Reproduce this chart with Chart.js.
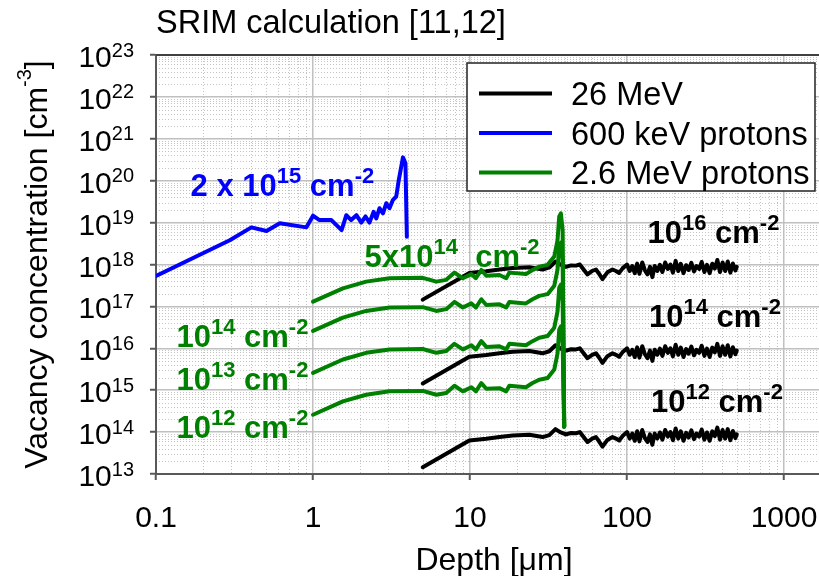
<!DOCTYPE html>
<html>
<head>
<meta charset="utf-8">
<script src="https://cdn.jsdelivr.net/npm/chart.js@4.4.1/dist/chart.umd.min.js"></script>
<style>
  html, body { margin: 0; padding: 0; background: #fff; }
  canvas { display: block; }
</style>
</head>
<body>
<canvas id="srim" width="819" height="576"></canvas>
<script>
// 600 keV protons, 2e15 cm^-2 (absolute concentration, cm^-3)
const blueDepth = [0.1, 0.295, 0.405, 0.506, 0.614, 0.908, 1.0, 1.10, 1.31, 1.52, 1.63, 1.75, 1.89, 2.03,
  2.16, 2.29, 2.43, 2.53, 2.65, 2.79, 2.93, 3.07, 3.23, 3.39, 3.52, 3.74, 3.88, 3.96];
const blueValues = [5.3e17, 3.8e18, 7.7e18, 6.3e18, 9.6e18, 7.7e18, 1.46e19, 1.15e19, 1.15e19, 6.6e18, 1.5e19,
  1.15e19, 1.5e19, 1.0e19, 1.4e19, 1.0e19, 1.8e19, 1.26e19, 2.2e19, 1.66e19, 2.9e19, 2.2e19, 3.5e19, 4.2e19,
  1.05e20, 3.6e20, 2.6e20, 4.6e18];

// 2.6 MeV protons: vacancies per cm^3 per unit fluence (cm^-1)
const greenDepth = [1.0, 1.55, 2.18, 3.07, 5.0, 6.1, 7.05, 7.96, 9.0, 10.2, 10.9, 11.8, 12.7, 15.4, 17.0,
  17.8, 22.7, 25.0, 27.6, 31.2, 34.4, 36.1, 37.0, 37.9, 38.9];
const greenYield = [260, 540, 780, 940, 960, 780, 860, 1280, 940, 1180, 940, 1480, 1080, 1120, 940,
  1280, 1180, 1480, 1780, 1960, 3100, 7600, 28000, 33200, 13200];
const greenFluences = [5e14, 1e14, 1e13, 1e12];
// end of range, past the Bragg peak
const greenEndDepth = 39.8;
const greenEndValue = 1.35e14;

// 26 MeV: vacancies per cm^3 per unit fluence (cm^-1)
const blackDepth = [5.0, 9.9, 12.7, 15.4, 18.7, 23.9, 29.0, 32.0, 35.0, 37.5, 40.8, 44.0, 47.3, 50.0, 56.0,
  60.0, 63.4, 66.0, 69.8, 75.0, 80.8, 85.0, 89.1, 94.0,
  100, 104, 108, 112, 116, 120, 125, 130, 135, 140, 145, 150, 156, 162, 168, 175, 182, 189, 196, 204, 212,
  220, 229, 238, 247, 257, 267, 277, 288, 299, 311, 323, 336, 349, 362, 376, 391, 406, 422, 438, 455, 472,
  490, 500];
const blackYield = [14.5, 63, 69, 76, 83, 86, 76, 85, 118, 100, 88, 95, 94, 100, 58,
  70, 76, 62, 45, 65, 76, 70, 63, 82,
  100, 70, 92, 62, 105, 60, 112, 72, 58, 88, 50, 92, 70, 98, 66, 112, 78, 100, 64, 122, 70,
  104, 62, 96, 74, 110, 68, 92, 78, 115, 66, 98, 62, 104, 80, 128, 66, 112, 70, 118, 64, 106,
  72, 88];
const blackFluences = [1e16, 1e14, 1e12];

const xTicks = [0.1, 1, 10, 100, 1000];
const xTickLabels = ['0.1', '1', '10', '100', '1000'];
const yExponents = [13, 14, 15, 16, 17, 18, 19, 20, 21, 22, 23];

const BLACK = '#000000', BLUE = '#0000ff', GREEN = '#008000';
const FONT = '"Liberation Sans", Arial, sans-serif';

function pts(depth, values, scale) {
  return depth.map((d, i) => ({ x: d, y: values[i] * scale }));
}

const datasets = [];
greenFluences.forEach(f => {
  const data = pts(greenDepth, greenYield, f);
  data.push({ x: greenEndDepth, y: greenEndValue });
  datasets.push({ label: '2.6 MeV protons', data, borderColor: GREEN, order: 0 });
});
datasets.push({ label: '600 keV protons', data: pts(blueDepth, blueValues, 1), borderColor: BLUE, order: 1 });
blackFluences.forEach(f => {
  datasets.push({ label: '26 MeV', data: pts(blackDepth, blackYield, f), borderColor: BLACK, order: 2 });
});

const legendOrder = ['26 MeV', '600 keV protons', '2.6 MeV protons'];

// fluence labels, anchored in data coordinates (left edge, baseline)
const notes = [
  { x: 0.166, y: 4.2e19, color: BLUE, parts: [['2 x 10'], ['15', 1], [' cm'], ['-2', 1]] },
  { x: 2.13, y: 8.9e17, color: GREEN, parts: [['5x10'], ['14', 1], ['  cm'], ['-2', 1]] },
  { x: 0.135, y: 1.09e16, color: GREEN, parts: [['10'], ['14', 1], [' cm'], ['-2', 1]] },
  { x: 0.135, y: 1.0e15, color: GREEN, parts: [['10'], ['13', 1], [' cm'], ['-2', 1]] },
  { x: 0.135, y: 7.4e13, color: GREEN, parts: [['10'], ['12', 1], [' cm'], ['-2', 1]] },
  { x: 135, y: 3.2e18, color: BLACK, parts: [['10'], ['16', 1], [' cm'], ['-2', 1]] },
  { x: 138, y: 3.3e16, color: BLACK, parts: [['10'], ['14', 1], [' cm'], ['-2', 1]] },
  { x: 142, y: 3.1e14, color: BLACK, parts: [['10'], ['12', 1], [' cm'], ['-2', 1]] }
];

// text with superscripts: parts = [[text, isSup], ...]
function drawRich(ctx, x, y, parts, o) {
  let w = 0;
  parts.forEach(([t, sup]) => { ctx.font = sup ? o.sup : o.font; w += ctx.measureText(t).width; });
  let cx = o.align === 'right' ? x - w : o.align === 'center' ? x - w / 2 : x;
  ctx.textAlign = 'left';
  ctx.textBaseline = 'alphabetic';
  parts.forEach(([t, sup]) => {
    ctx.font = sup ? o.sup : o.font;
    ctx.fillText(t, cx, sup ? y - o.rise : y);
    cx += ctx.measureText(t).width;
  });
}

const minorGrid = {
  id: 'minorGrid',
  beforeDraw(chart) {
    const { ctx, chartArea: a, scales: { x, y } } = chart;
    ctx.save();
    ctx.fillStyle = '#fff';
    ctx.fillRect(0, 0, chart.width, chart.height);
    ctx.strokeStyle = '#c4c4c4';
    ctx.lineWidth = 1;
    ctx.setLineDash([1, 2]);
    ctx.beginPath();
    for (let e = -1; e <= 3; e++) {
      for (let m = 2; m <= 9; m++) {
        const v = m * Math.pow(10, e);
        if (v > x.max) break;
        const px = Math.round(x.getPixelForValue(v)) + 0.5;
        ctx.moveTo(px, a.top);
        ctx.lineTo(px, a.bottom);
      }
    }
    for (let e = 13; e < 23; e++) {
      for (let m = 2; m <= 9; m++) {
        const py = Math.round(y.getPixelForValue(m * Math.pow(10, e))) + 0.5;
        ctx.moveTo(a.left, py);
        ctx.lineTo(a.right, py);
      }
    }
    ctx.stroke();
    ctx.restore();
  }
};

const texts = {
  id: 'texts',
  afterDraw(chart) {
    const { ctx, chartArea: a, scales: { x, y } } = chart;
    ctx.save();

    // top frame line
    ctx.strokeStyle = '#404040';
    ctx.lineWidth = 2;
    ctx.beginPath();
    ctx.moveTo(a.left, a.top);
    ctx.lineTo(a.right, a.top);
    ctx.stroke();

    ctx.fillStyle = '#000';
    ctx.font = '32.5px ' + FONT;
    ctx.textBaseline = 'alphabetic';
    ctx.textAlign = 'left';
    ctx.fillText('SRIM calculation [11,12]', a.left, 33);

    // tick labels
    const tickFont = { font: '30px ' + FONT, sup: '20px ' + FONT, rise: 10.5, align: 'right' };
    yExponents.forEach(e => {
      const py = y.getPixelForValue(Math.pow(10, e));
      drawRich(ctx, a.left - 22, py + 12, [['10'], [String(e), 1]], tickFont);
    });
    ctx.font = '30px ' + FONT;
    ctx.textAlign = 'center';
    xTicks.forEach((v, i) => ctx.fillText(xTickLabels[i], x.getPixelForValue(v), a.bottom + 53));

    // axis titles
    ctx.font = '32px ' + FONT;
    ctx.fillText('Depth [μm]', 494, 570);
    ctx.save();
    ctx.translate(47, (a.top + a.bottom) / 2);
    ctx.rotate(-Math.PI / 2);
    drawRich(ctx, 0, 0, [['Vacancy concentration [cm'], ['-3', 1], [']']],
      { font: '32px ' + FONT, sup: '20px ' + FONT, rise: 16, align: 'center' });
    ctx.restore();

    // fluence labels
    const noteFont = { font: 'bold 31px ' + FONT, sup: 'bold 22px ' + FONT, rise: 13, align: 'left' };
    notes.forEach(n => {
      ctx.fillStyle = n.color;
      drawRich(ctx, x.getPixelForValue(n.x), y.getPixelForValue(n.y), n.parts, noteFont);
    });

    // legend
    const bx = 467, by = 63, bw = 348, bh = 128;
    ctx.fillStyle = '#fff';
    ctx.fillRect(bx, by, bw, bh);
    ctx.strokeStyle = '#222';
    ctx.lineWidth = 1.5;
    ctx.strokeRect(bx, by, bw, bh);
    ctx.font = '32.5px ' + FONT;
    ctx.textAlign = 'left';
    legendOrder.forEach((label, i) => {
      const ds = chart.data.datasets.find(d => d.label === label);
      const ly = 93.5 + i * 39.5;
      ctx.strokeStyle = ds.borderColor;
      ctx.lineWidth = 4;
      ctx.beginPath();
      ctx.moveTo(479, ly);
      ctx.lineTo(552, ly);
      ctx.stroke();
      ctx.fillStyle = '#000';
      ctx.fillText(label, 571, ly + 11.5);
    });

    ctx.restore();
  }
};

function decadeTicks(values) {
  return scale => { scale.ticks = values.map(v => ({ value: v })); };
}

new Chart(document.getElementById('srim'), {
  type: 'line',
  data: { datasets },
  options: {
    responsive: false,
    animation: false,
    devicePixelRatio: 1,
    layout: { autoPadding: false, padding: { left: 150, top: 55, right: 0, bottom: 96 } },
    elements: {
      line: { borderWidth: 4, tension: 0, borderJoinStyle: 'round', borderCapStyle: 'round', fill: false },
      point: { radius: 0, hoverRadius: 0 }
    },
    plugins: { legend: { display: false }, tooltip: { enabled: false }, title: { display: false } },
    scales: {
      x: {
        type: 'logarithmic',
        min: 0.1,
        max: 1670,
        afterBuildTicks: decadeTicks(xTicks),
        ticks: { display: false },
        grid: { color: '#c0c0c0', lineWidth: 1.5, tickColor: '#595959', tickLength: 6, tickWidth: 2 },
        border: { color: '#595959', width: 2 }
      },
      y: {
        type: 'logarithmic',
        min: 1e13,
        max: 1e23,
        afterBuildTicks: decadeTicks(yExponents.map(e => Math.pow(10, e))),
        ticks: { display: false },
        grid: { color: '#c0c0c0', lineWidth: 1.5, tickColor: '#595959', tickLength: 6, tickWidth: 2 },
        border: { color: '#595959', width: 2 }
      }
    }
  },
  plugins: [minorGrid, texts]
});
</script>
</body>
</html>
